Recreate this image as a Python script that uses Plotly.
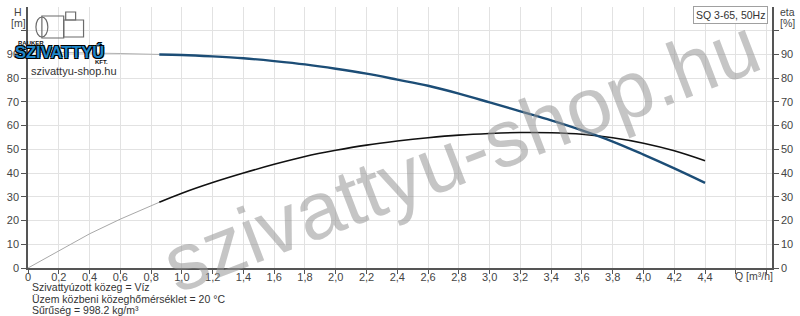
import plotly.graph_objects as go

# ---- data ----
q_ext = [0.0, 0.2, 0.4, 0.6, 0.853]
h_ext = [91.0, 90.9, 90.7, 90.4, 90.0]
eta_ext = [0.0, 7.2, 14.4, 20.6, 27.7]

q_main = [0.853, 1.0, 1.2, 1.4, 1.6, 1.8, 2.0, 2.2, 2.4, 2.6, 2.8, 3.0, 3.2, 3.4, 3.6, 3.8, 4.0, 4.2, 4.4]
h_main = [90.0, 89.8, 89.2, 88.4, 87.2, 85.8, 84.0, 81.9, 79.4, 76.8, 73.5, 69.8, 66.0, 62.2, 58.0, 53.3, 47.8, 42.0, 35.9]
eta_main = [27.7, 31.5, 36.0, 40.0, 43.7, 47.0, 49.6, 51.8, 53.5, 54.9, 56.0, 56.7, 57.1, 57.0, 56.4, 54.9, 52.6, 49.4, 45.2]

x_tickvals = [0, 0.2, 0.4, 0.6, 0.8, 1.0, 1.2, 1.4, 1.6, 1.8, 2.0, 2.2, 2.4, 2.6, 2.8, 3.0, 3.2, 3.4, 3.6, 3.8, 4.0, 4.2, 4.4, 4.6, 4.8]
x_ticktext = ["0", "0,2", "0,4", "0,6", "0,8", "1,0", "1,2", "1,4", "1,6", "1,8", "2,0", "2,2", "2,4",
              "2,6", "2,8", "3,0", "3,2", "3,4", "3,6", "3,8", "4,0", "4,2", "4,4", "", ""]
y_tickvals = [0, 10, 20, 30, 40, 50, 60, 70, 80, 90, 100]
y_ticktext = ["0", "10", "20", "30", "40", "50", "60", "70", "80", "90", ""]
info_lines = ["Szivattyúzott közeg = Víz",
              "Üzem közbeni közeghőmérséklet = 20 °C",
              "Sűrűség = 998.2 kg/m³"]

FONT = "Liberation Sans, Arial, sans-serif"
fig = go.Figure()

fig.add_trace(go.Scatter(x=q_ext, y=h_ext, mode="lines", line=dict(color="#b0b0b0", width=1), hoverinfo="skip"))
fig.add_trace(go.Scatter(x=q_ext, y=eta_ext, mode="lines", line=dict(color="#a8a8a8", width=1), hoverinfo="skip"))
fig.add_trace(go.Scatter(x=q_main, y=eta_main, mode="lines", line=dict(color="#111111", width=1.6, shape="spline"), hoverinfo="skip"))
fig.add_trace(go.Scatter(x=q_main, y=h_main, mode="lines", line=dict(color="#1c4d76", width=2.4, shape="spline"), hoverinfo="skip"))
# right axis (eta), same scale
fig.add_trace(go.Scatter(x=[None], y=[None], yaxis="y2", showlegend=False))

axcol = "#555555"
fig.update_layout(
    width=800, height=316,
    margin=dict(l=22, r=28, t=7, b=48),
    paper_bgcolor="white", plot_bgcolor="white",
    showlegend=False,
    font=dict(family=FONT, size=11, color="#444444"),
    xaxis=dict(range=[0, 4.835], tickvals=x_tickvals, ticktext=x_ticktext,
               showgrid=True, gridcolor="#e2e2e2", gridwidth=1,
               showline=True, linecolor=axcol, linewidth=1.5,
               ticks="outside", ticklen=4, tickcolor=axcol, zeroline=False,
               ticklabelstandoff=-6,
               tickfont=dict(size=11, color="#444444")),
    yaxis=dict(range=[0, 110], tickvals=y_tickvals, ticktext=y_ticktext,
               showgrid=True, gridcolor="#e2e2e2", gridwidth=1,
               showline=True, linecolor=axcol, linewidth=1.5,
               ticks="outside", ticklen=5, tickcolor=axcol, zeroline=False,
               tickfont=dict(size=11, color="#444444")),
    yaxis2=dict(range=[0, 110], tickvals=y_tickvals, ticktext=y_ticktext,
                overlaying="y", side="right", showgrid=False,
                showline=True, linecolor=axcol, linewidth=1.5,
                ticks="outside", ticklen=5, tickcolor=axcol, zeroline=False,
                tickfont=dict(size=11, color="#444444")),
)

def px_x(px):
    return (px - 22) / 750.0

def px_y(py):
    return (268 - py) / 261.0

ann = []
def add(xp, yp, text, size=10.5, color="#444", xanchor="center", **kw):
    d = dict(x=px_x(xp), y=px_y(yp), text=text, showarrow=False, xanchor=xanchor,
             yanchor=kw.pop("yanchor", "middle"), xref="paper", yref="paper",
             font=kw.pop("font", dict(size=size, color=color)))
    d.update(kw)
    ann.append(d)

add(12, 12, "H")
add(12, 23, "[m]")
add(788, 12, "eta")
add(788, 23, "[%]")
add(754, 276, "Q [m³/h]")
add(768, 6, "SQ 3-65, 50Hz", xanchor="right", yanchor="top", font=dict(size=10.5, color="#333"),
    bordercolor="#a0a0a0", borderwidth=1, borderpad=2, bgcolor="white")
for i, line in enumerate(info_lines):
    add(24, 287 + i * 11.5, line, xanchor="left", font=dict(size=10.5, color="#333"))
# logo (text approximation)
add(10, 43, "<b>RAUKER</b>", xanchor="left", font=dict(size=6, color="#111"))
add(7, 52, "<b>SZIVATTYÚ</b>", xanchor="left",
    font=dict(size=16.5, color="#1f86c8",
              shadow="1px 1px 0 #000, -1px -1px 0 #000, 1px -1px 0 #000, -1px 1px 0 #000"))
add(88, 62, "<b>KFT.</b>", xanchor="left", font=dict(size=6, color="#111"))
add(23, 71, "szivattyu-shop.hu", xanchor="left", font=dict(size=11, color="#333"))
# watermark
add(458, 155, "szivattyu-shop.hu", textangle=-21,
    font=dict(size=81, color="rgba(150,150,150,0.55)", family=FONT))

fig.update_layout(annotations=ann)

# rough pump sketch of the logo
pump = [
    dict(type="rect", x0=px_x(36), x1=px_x(58), y0=px_y(38), y1=px_y(16)),
    dict(type="circle", x0=px_x(30), x1=px_x(42), y0=px_y(37), y1=px_y(17)),
    dict(type="rect", x0=px_x(58), x1=px_x(78), y0=px_y(37), y1=px_y(20)),
    dict(type="rect", x0=px_x(60), x1=px_x(70), y0=px_y(20), y1=px_y(12)),
]
for s in pump:
    s.update(xref="paper", yref="paper", line=dict(color="#6b6b6b", width=1.2), fillcolor="rgba(0,0,0,0)")
fig.update_layout(shapes=pump)

fig.write_html("out.html")
